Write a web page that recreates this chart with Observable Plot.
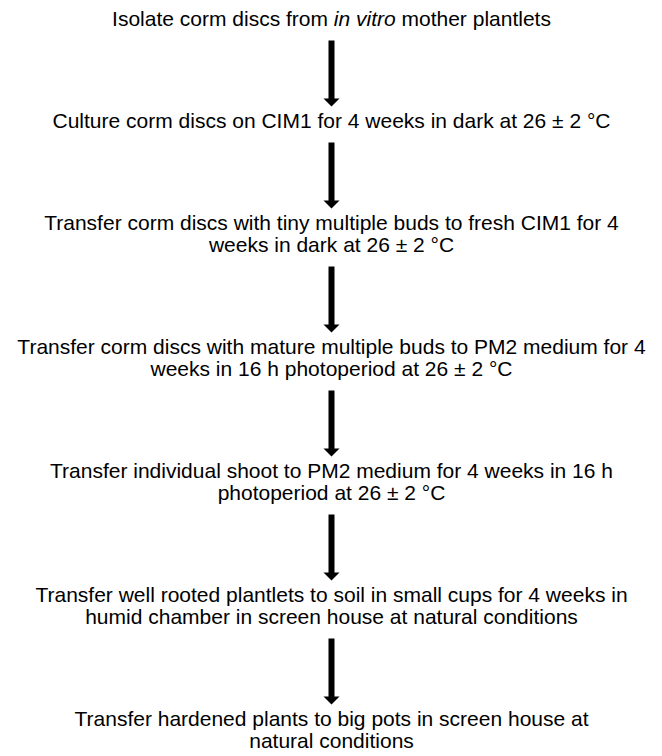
<!DOCTYPE html>
<html>
<head>
<meta charset="utf-8">
<script src="https://cdn.jsdelivr.net/npm/d3@7"></script>
<script src="https://cdn.jsdelivr.net/npm/@observablehq/plot@0.6"></script>
<style>
  html, body { margin: 0; padding: 0; background: #fff; }
  #chart svg { display: block; }
</style>
</head>
<body>
<div id="chart"></div>
<script>
// ---- Data: flowchart steps (line breaks as in the reference) ----
const steps = [
  "Isolate corm discs from in vitro mother plantlets",
  "Culture corm discs on CIM1 for 4 weeks in dark at 26 ± 2 °C",
  "Transfer corm discs with tiny multiple buds to fresh CIM1 for 4\nweeks in dark at 26 ± 2 °C",
  "Transfer corm discs with mature multiple buds to PM2 medium for 4\nweeks in 16 h photoperiod at 26 ± 2 °C",
  "Transfer individual shoot to PM2 medium for 4 weeks in 16 h\nphotoperiod at 26 ± 2 °C",
  "Transfer well rooted plantlets to soil in small cups for 4 weeks in\nhumid chamber in screen house at natural conditions",
  "Transfer hardened plants to big pots in screen house at\nnatural conditions"
];
const italicPhrases = ["in vitro"];

// ---- Layout (uniform rule, derived from step order) ----
const W = 662, H = 756;
const lineHeight = 22, gapAbove = 21, arrowLength = 66, gapBelow = 15, firstCenter = 19;

const lines = [];
const arrows = [];
let cursor = firstCenter;
steps.forEach((s, i) => {
  const parts = s.split("\n");
  parts.forEach((t, j) => lines.push({step: i, text: t, y: cursor + j * lineHeight}));
  const last = cursor + (parts.length - 1) * lineHeight;
  if (i < steps.length - 1) {
    const start = last + gapAbove;
    arrows.push({from: i, y: start});
    cursor = start + arrowLength + gapBelow;
  }
});

// Solid block arrow (shaft + triangular head), drawn upward then rotated
const blockArrow = {
  draw(context, l) {
    const sw = 3, hw = 8, hl = 8;
    context.moveTo(-sw, 0);
    context.lineTo(sw, 0);
    context.lineTo(sw, -(l - hl));
    context.lineTo(hw, -(l - hl));
    context.lineTo(0, -l);
    context.lineTo(-hw, -(l - hl));
    context.lineTo(-sw, -(l - hl));
    context.closePath();
  }
};

const svg = Plot.plot({
  width: W,
  height: H,
  margin: 0,
  axis: null,
  x: {domain: [0, W], range: [0, W]},
  y: {domain: [0, H], range: [0, H]},
  style: {background: "#fff", color: "#000", fontFamily: "'Liberation Sans', Arial, sans-serif"},
  marks: [
    Plot.vector(arrows, {
      y: "y",
      length: arrowLength,
      rotate: 180,
      anchor: "start",
      shape: blockArrow,
      fill: "#000",
      stroke: "none"
    }),
    Plot.text(lines, {
      y: "y",
      text: "text",
      fontSize: 21,
      textAnchor: "middle",
      lineAnchor: "middle",
      fill: "#000"
    })
  ]
});

// Italicise the Latin phrase while keeping the text as real text
d3.select(svg).selectAll("text").each(function() {
  const t = this.textContent;
  for (const ph of italicPhrases) {
    const k = t.indexOf(ph);
    if (k < 0) continue;
    const tsp = this.querySelector("tspan");
    if (tsp && tsp.getAttribute("dy") && !this.getAttribute("dy")) this.setAttribute("dy", tsp.getAttribute("dy"));
    const sel = d3.select(this);
    sel.text(null);
    sel.append("tspan").text(t.slice(0, k));
    sel.append("tspan").attr("font-style", "italic").text(ph);
    sel.append("tspan").text(t.slice(k + ph.length));
  }
});

document.getElementById("chart").appendChild(svg);
</script>
</body>
</html>
